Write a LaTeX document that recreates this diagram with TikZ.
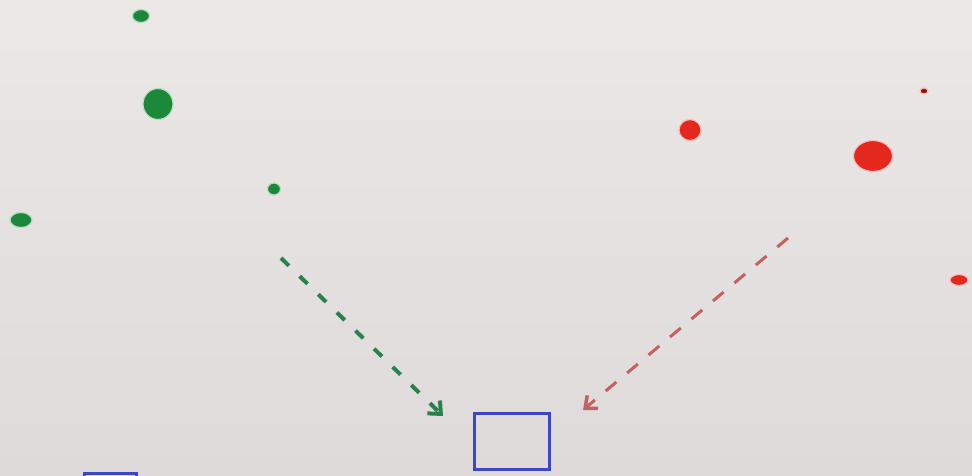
\documentclass[tikz,border=0pt]{standalone}
\usepackage{xcolor}
\usetikzlibrary{arrows.meta,shapes.geometric}

\definecolor{wall}{RGB}{222,218,218}
\definecolor{walltop}{RGB}{236,232,230}
\definecolor{dotgreen}{RGB}{28,136,58}
\definecolor{dotred}{RGB}{228,40,30}
\definecolor{arrowgreen}{RGB}{40,130,75}
\definecolor{arrowred}{RGB}{196,96,96}
\definecolor{penblue}{RGB}{60,70,200}

\begin{document}
\begin{tikzpicture}[
  x=1pt, y=-1pt,
  every node/.style={inner sep=0pt, outer sep=0pt},
  blob/.style n args={2}{ellipse, minimum width=#1, minimum height=#2, line width=1.2pt},
  gblob/.style={fill=dotgreen, draw=white!70!dotgreen},
  rblob/.style={fill=dotred, draw=white!70!dotred},
  garrow/.style={arrowgreen, line width=4pt, dash pattern=on 11pt off 15pt,
    -{Straight Barb[length=10pt, width=18pt, line width=4pt]}},
  rarrow/.style={arrowred, line width=3pt, dash pattern=on 14pt off 14pt,
    -{Straight Barb[length=10pt, width=17pt, line width=3.5pt]}},
  penline/.style={penblue, line width=3pt},
]
% --- background wall
\shade[top color=walltop, bottom color=wall] (0,0) rectangle (972,475);
\useasboundingbox (0,0) rectangle (972,475);

% --- green dots (upper left)
\node[blob={17pt}{13pt}, gblob] (g1) at (141,16) {};
\node[blob={30pt}{31pt}, gblob] (g2) at (158,104) {};
\node[blob={13pt}{12pt}, gblob] (g3) at (274,189) {};
\node[blob={22pt}{15pt}, gblob] (g4) at (21,220) {};

% --- red dots (upper right)
\node[blob={22pt}{21pt}, rblob] (r1) at (690,130) {};
\node[blob={39pt}{31pt}, rblob] (r2) at (873,156) {};
\node[blob={8pt}{6pt}, fill=dotred!60!black, draw=white!70!dotred] (r3) at (924,91) {};
\node[blob={18pt}{11pt}, rblob] (r4) at (959,280) {};

% --- dashed arrows towards the box
\coordinate (gtail) at (281,258);
\coordinate (ghead) at (443,416);
\coordinate (rtail) at (788,238);
\coordinate (rhead) at (583,410);
\draw[garrow] (gtail) -- (ghead);
\draw[rarrow] (rtail) -- (rhead);

% --- blue boxes
\node[draw, penline, minimum width=75pt, minimum height=56pt] (box) at (512,441.5) {};
\begin{scope}
  \clip (0,0) rectangle (972,475);
  \draw[penline] (84,473) rectangle (136,500);
\end{scope}
\end{tikzpicture}
\end{document}
